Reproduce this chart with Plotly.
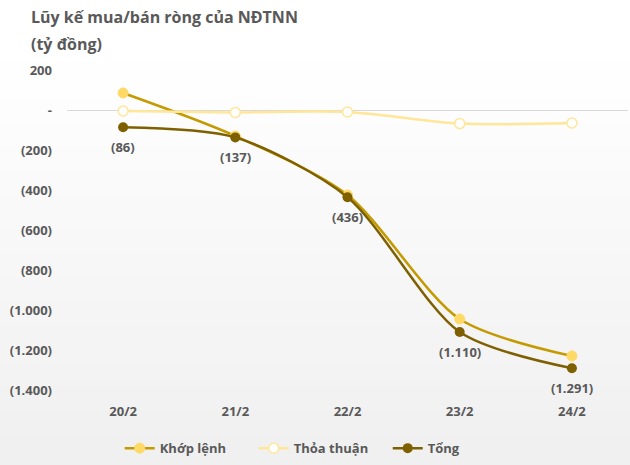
import plotly.graph_objects as go

categories = ["20/2", "21/2", "22/2", "23/2", "24/2"]
khop_lenh = [85, -130, -425, -1045, -1230]
thoa_thuan = [-5, -12, -10, -68, -65]
tong = [-86, -137, -436, -1110, -1291]
tong_labels = ["(86)", "(137)", "(436)", "(1.110)", "(1.291)"]
y_tickvals = [200, 0, -200, -400, -600, -800, -1000, -1200, -1400]
y_ticktext = ["200", "-", "(200)", "(400)", "(600)", "(800)", "(1.000)", "(1.200)", "(1.400)"]
title_lines = ["Lũy kế mua/bán ròng của NĐTNN", "(tỷ đồng)"]

FONT = "Open Sans"
GRAY = "#595959"
PLOT_BOTTOM_PX, PLOT_HEIGHT_PX = 390, 320

fig = go.Figure()
fig.add_trace(go.Scatter(
    x=categories, y=khop_lenh, name="<b>Khớp lệnh</b>", mode="lines+markers",
    line=dict(color="#C49A00", width=2.5, shape="spline", smoothing=0.8),
    marker=dict(color="#FFD966", size=10, line=dict(color="#FFD966", width=1)),
))
fig.add_trace(go.Scatter(
    x=categories, y=thoa_thuan, name="<b>Thỏa thuận</b>", mode="lines+markers",
    line=dict(color="#FFE699", width=2.5, shape="spline", smoothing=0.8),
    marker=dict(color="white", size=10, line=dict(color="#FFE699", width=1.5)),
))
fig.add_trace(go.Scatter(
    x=categories, y=tong, name="<b>Tổng</b>", mode="lines+markers",
    line=dict(color="#7F6000", width=2.5, shape="spline", smoothing=0.8),
    marker=dict(color="#7F6000", size=10),
))

annotations = [
    dict(x=c, y=v, text=f"<b>{t}</b>", showarrow=False, yshift=-20,
         font=dict(family=FONT, size=13, color=GRAY))
    for c, v, t in zip(categories, tong, tong_labels)
]
for i, line in enumerate(title_lines):
    line_px = 17 + 27 * i
    annotations.append(dict(
        text=f"<b>{line}</b>",
        xref="paper", yref="paper", x=-0.067,
        y=(PLOT_BOTTOM_PX - line_px) / PLOT_HEIGHT_PX,
        xanchor="left", yanchor="middle", align="left", showarrow=False,
        font=dict(family=FONT, size=16, color=GRAY)))

# background gradient strips
shapes = []
n = 40
y_lo, y_hi = -0.25, 1.25
for i in range(n):
    t = i / (n - 1)
    y0 = y_hi - (y_hi - y_lo) * i / n
    y1 = y_hi - (y_hi - y_lo) * (i + 1) / n
    g = int(255 - 15 * max(0, (t - 0.15) / 0.85))
    shapes.append(dict(type="rect", xref="paper", yref="paper", x0=-0.2, x1=1.1,
                       y0=y1, y1=y0, fillcolor=f"rgb({g},{g},{g})",
                       line=dict(width=0), layer="below"))

fig.update_layout(
    width=630, height=465,
    margin=dict(l=67, r=2, t=70, b=75),
    paper_bgcolor="white", plot_bgcolor="rgba(0,0,0,0)",
    shapes=shapes,
    annotations=annotations,
    font=dict(family=FONT, color=GRAY),
    showlegend=True,
    legend=dict(orientation="h", x=0.094, xanchor="left", y=-0.135, yanchor="top",
                font=dict(family=FONT, size=13, color=GRAY),
                bgcolor="rgba(0,0,0,0)", itemwidth=30, entrywidthmode="pixels", entrywidth=89),
    xaxis=dict(range=[-0.5, 4.5], showgrid=False, zeroline=False, showline=False,
               tickfont=dict(family=FONT, size=13, color=GRAY, weight="bold"), ticks="",
               ticklabelstandoff=12),
    yaxis=dict(range=[-1400, 200], tickvals=y_tickvals, ticktext=y_ticktext,
               showgrid=False, zeroline=True, zerolinecolor="#D9D9D9", zerolinewidth=1,
               showline=False, ticks="", ticklabelstandoff=14,
               tickfont=dict(family=FONT, size=13, color=GRAY, weight="bold")),
)

fig.write_html("out.html")
